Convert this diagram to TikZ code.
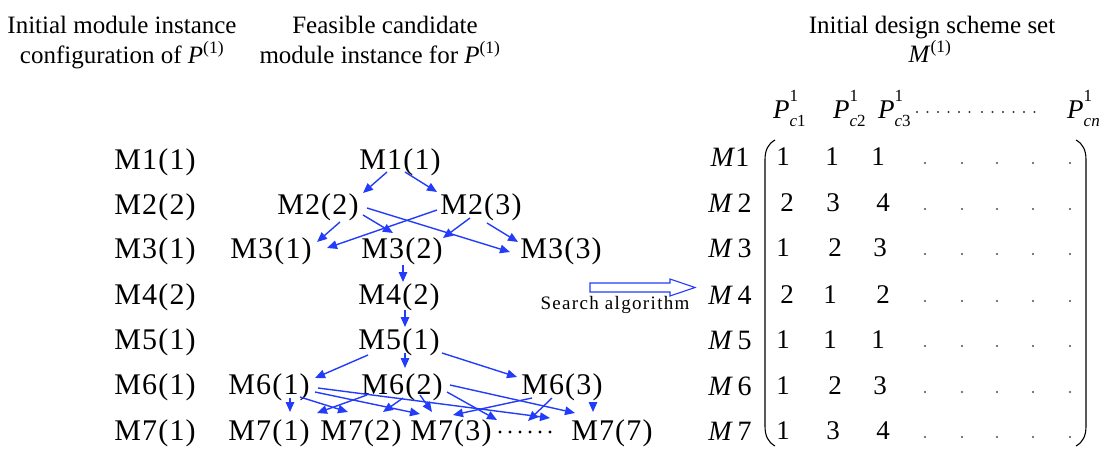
\documentclass[tikz,border=0pt]{standalone}
\usepackage{fontspec}
\setmainfont{Liberation Serif}
\newfontfamily\spacedfont{Liberation Serif}[LetterSpace=7]
\newfontfamily\modfont{Liberation Serif}[LetterSpace=4]
\usetikzlibrary{arrows.meta,calc}
\definecolor{ab}{RGB}{35,60,250}
\newcommand\Pcol[1]{\textit{P}\rlap{\raisebox{0.62em}{\fontsize{17}{17}\selectfont 1}}\raisebox{-0.32em}{\fontsize{17}{17}\selectfont\textit{c}#1}}
\tikzset{
  mod/.style={font=\modfont\fontsize{30}{34}\selectfont, inner sep=0pt, text height=20pt, text depth=0pt},
  ttl/.style={font=\fontsize{25}{30}\selectfont, inner sep=0pt, anchor=base},
  arr/.style={draw=ab, line width=1.4pt, -{Triangle[length=10pt,width=8.5pt]}},
  ent/.style={font=\fontsize{27}{30}\selectfont, inner sep=0pt},
  rowlab/.style={font=\fontsize{28}{30}\selectfont, inner sep=0pt},
  plab/.style={font=\fontsize{27}{30}\selectfont, inner sep=0pt, anchor=base west},
}
\begin{document}
\begin{tikzpicture}[x=1pt,y=-1pt]
\useasboundingbox (0,0) rectangle (1106,450);
% titles
\node[ttl] (t1) at (122,33) {Initial module instance};
\node[ttl] (t2) at (122,63) {configuration of \textit{P}\textsuperscript{(1)}};
\node[ttl] (t3) at (385,33) {Feasible candidate};
\node[ttl] (t4) at (380,63) {module instance for \textit{P}\textsuperscript{(1)}};
\node[ttl] (t5) at (932,33) {Initial design scheme set};
\node[ttl] (t6) at (930,62) {\textit{M}\textsuperscript{(1)}};
% left column
\foreach \t/\y [count=\i] in {M1(1)/159,M2(2)/204,M3(1)/248,M4(2)/294,M5(1)/339,M6(1)/384,M7(1)/430}
  \node[mod] (l\i) at (155,\y) {\t};
% middle tree
\node[mod] (a11) at (400,159) {M1(1)};
\node[mod] (a22) at (318,204) {M2\kern1pt(2)};
\node[mod] (a23) at (481,204) {M2\kern1pt(3)};
\node[mod] (a31) at (271,248) {M3(1)};
\node[mod] (a32) at (402,248) {M3(2)};
\node[mod] (a33) at (561,248) {M3(3)};
\node[mod] (a42) at (399,294) {M4(2)};
\node[mod] (a51) at (399,339) {M5(1)};
\node[mod] (a61) at (269,384) {M6(1)};
\node[mod] (a62) at (402,384) {M6(2)};
\node[mod] (a63) at (562,384) {M6\kern1pt(3)};
\node[mod] (a71) at (269,430) {M7(1)};
\node[mod] (a72) at (361,430) {M7\kern1pt(2)};
\node[mod] (a73) at (451,430) {M7\kern1pt(3)};
\node[mod] (a77) at (612,430) {M7\kern1pt(7)};
\coordinate (dts) at (525,430);
\foreach \k in {0,...,5} \fill ($(dts)+(-25+10*\k,2)$) circle (1.7);
% arrows
\draw[arr] ($(a11)+(-13,13)$) -- ($(a22)+(45,-11)$);
\draw[arr] ($(a11)+(5,13)$) -- ($(a23)+(-44,-12)$);
\draw[arr] ($(a22)+(22,18)$) -- ($(a31)+(46,-6)$);
\draw[arr] ($(a22)+(45,11)$) -- ($(a32)+(-9,-15)$);
\draw[arr] ($(a22)+(49,4)$) -- ($(a33)+(-51,4)$);
\draw[arr] ($(a23)+(-44,6)$) -- ($(a31)+(56,0)$);
\draw[arr] ($(a23)+(-11,14)$) -- ($(a32)+(41,-10)$);
\draw[arr] ($(a23)+(6,19)$) -- ($(a33)+(-43,-6)$);
\draw[arr] ($(a32)+(1,17)$) -- ($(a42)+(4,-12)$);
\draw[arr] ($(a42)+(6,16)$) -- ($(a51)+(6,-12)$);
\draw[arr] ($(a51)+(-31,16)$) -- ($(a61)+(46,-6)$);
\draw[arr] ($(a51)+(6,14)$) -- ($(a62)+(3,-16)$);
\draw[arr] ($(a51)+(43,14)$) -- ($(a63)+(-45,-7)$);
\draw[arr] ($(a61)+(21,14)$) -- ($(a71)+(21,-18)$);
\draw[arr] ($(a61)+(31,13)$) -- ($(a72)+(-13,-18)$);
\draw[arr] ($(a61)+(46,8)$) -- ($(a73)+(-31,-16)$);
\draw[arr] ($(a61)+(49,4)$) -- ($(dts)+(25,-12)$);
\draw[arr] ($(a62)+(-35,11)$) -- ($(a71)+(48,-17)$);
\draw[arr] ($(a62)+(1,14)$) -- ($(a72)+(22,-18)$);
\draw[arr] ($(a62)+(18,11)$) -- ($(a73)+(-19,-18)$);
\draw[arr] ($(a62)+(45,8)$) -- ($(dts)+(-28,-10)$);
\draw[arr] ($(a62)+(48,1)$) -- ($(a77)+(-37,-17)$);
\draw[arr] ($(a63)+(-30,14)$) -- ($(a73)+(2,-15)$);
\draw[arr] ($(a63)+(-10,14)$) -- ($(dts)+(3,-9)$);
\draw[arr] ($(a63)+(31,18)$) -- ($(a77)+(-19,-18)$);
% search arrow
\draw[draw=ab, line width=1.1pt, fill=white] (590,283) -- (670,283) -- (670,279) -- (695,287.5) -- (670,296) -- (670,292) -- (590,292) -- cycle;
\node[inner sep=0pt, anchor=base, font=\spacedfont\fontsize{19}{22}\selectfont] (sa) at (615,309) {Search algorithm};
% header of matrix
\node[plab] (p1) at (773,118) {\Pcol{1}};
\node[plab] (p2) at (833,118) {\Pcol{2}};
\node[plab] (p3) at (878,118) {\Pcol{3}};
\node[plab] (pn) at (1067,118) {\Pcol{\textit{n}}};
\foreach \x in {917,927.5,938,948.5,959,969.5,982,992.5,1003,1013.5,1024,1034.5}
  \fill[black!80] (\x,112) circle (1.1);
% row labels
\foreach \t/\y [count=\i] in {\textit{M}1/157,\textit{M}\,2/203,\textit{M}\,3/248,\textit{M}\,4/295,\textit{M}\,5/340,\textit{M}\,6/386,\textit{M}\,7/431}
  \node[rowlab] (r\i) at (730,\y) {\t};
% parentheses
\draw[line width=1.1pt] (775,140) .. controls (768,144) and (765,150) .. (765,160) -- (765,426) .. controls (765,436) and (768,442) .. (775,446);
\draw[line width=1.1pt] (1076,140) .. controls (1083,144) and (1086,150) .. (1086,160) -- (1086,426) .. controls (1086,436) and (1083,442) .. (1076,446);
% entries
\foreach \y/\xa/\va/\xb/\vb/\xc/\vc [count=\i] in {
  157/783/1/832/1/878/1,
  203/787/2/833/3/883/4,
  248/783/1/835/2/880/3,
  295/787/2/830/1/883/2,
  340/783/1/830/1/878/1,
  386/783/1/835/2/880/3,
  431/783/1/833/3/883/4}{
  \node[ent] (e\i a) at (\xa,\y) {\va};
  \node[ent] (e\i b) at (\xb,\y) {\vb};
  \node[ent] (e\i c) at (\xc,\y) {\vc};
  \foreach \x in {925,962,997,1033,1070} \fill[black!70] (\x,\y+6) circle (1.2);
}
\end{tikzpicture}
\end{document}
